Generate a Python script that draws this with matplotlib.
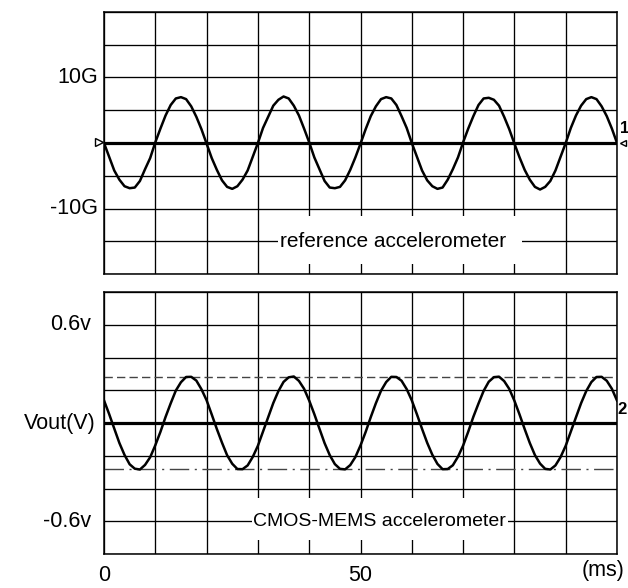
import numpy as np
import matplotlib
matplotlib.use("Agg")
import matplotlib.pyplot as plt
from matplotlib.patches import Rectangle

# time axis (ms), sampled every 1 ms
time_ms = list(range(0, 101))

# reference accelerometer trace (G)
ref_accel = [
    0.0, -2.1, -4.2, -5.6, -6.6, -6.9, -6.8, -5.8, -4.0, -2.3,
    0.1, 2.2, 4.2, 5.8, 6.8, 7.0, 6.7, 5.6, 4.0, 2.1,
    -0.1, -2.3, -4.1, -5.7, -6.7, -7.0, -6.6, -5.6, -4.2, -2.1,
    0.0, 2.3, 4.0, 5.7, 6.6, 7.1, 6.8, 5.7, 4.2, 2.2,
    0.1, -2.2, -4.0, -5.8, -6.8, -6.9, -6.7, -5.7, -4.1, -2.2,
    -0.1, 2.1, 4.1, 5.6, 6.7, 7.0, 6.8, 5.8, 4.1, 2.3,
    0.0, -2.1, -4.2, -5.7, -6.6, -7.0, -6.8, -5.6, -4.0, -2.2,
    0.1, 2.2, 4.1, 5.8, 6.8, 6.9, 6.6, 5.7, 4.0, 2.1,
    -0.1, -2.2, -4.1, -5.6, -6.7, -7.1, -6.7, -5.8, -4.2, -2.1,
    0.0, 2.3, 4.2, 5.7, 6.7, 7.0, 6.7, 5.6, 4.1, 2.2,
    0.0,
]

# CMOS-MEMS accelerometer output (V)
mems_vout = [
    0.138, 0.055, -0.034, -0.122, -0.195, -0.252, -0.279, -0.284, -0.256, -0.209,
    -0.136, -0.054, 0.037, 0.120, 0.198, 0.249, 0.281, 0.282, 0.259, 0.206,
    0.139, 0.052, -0.037, -0.120, -0.197, -0.249, -0.281, -0.282, -0.259, -0.207,
    -0.139, -0.052, 0.035, 0.122, 0.195, 0.251, 0.279, 0.284, 0.257, 0.209,
    0.137, 0.054, -0.035, -0.123, -0.196, -0.251, -0.280, -0.283, -0.257, -0.208,
    -0.137, -0.055, 0.036, 0.121, 0.197, 0.250, 0.282, 0.281, 0.258, 0.207,
    0.138, 0.053, -0.036, -0.121, -0.194, -0.250, -0.282, -0.281, -0.258, -0.206,
    -0.138, -0.053, 0.038, 0.119, 0.196, 0.252, 0.280, 0.283, 0.256, 0.208,
    0.136, 0.052, -0.037, -0.122, -0.196, -0.248, -0.280, -0.284, -0.259, -0.208,
    -0.139, -0.052, 0.035, 0.121, 0.195, 0.250, 0.281, 0.282, 0.258, 0.209,
    0.137,
]

# cursor levels on the lower trace (V)
vout_max = 0.28
vout_min = -0.28

top_labels = [(10, "10G"), (-10, "-10G")]
bot_labels = [(0.6, "0.6v"), (0.0, "Vout(V)"), (-0.6, "-0.6v")]
x_labels = [(0, "0"), (50, "50")]

plt.rcParams['font.family'] = ['Liberation Sans', 'DejaVu Sans']


def setup_grid(ax, ylim, ystep):
    ax.set_xlim(0, 100)
    ax.set_ylim(-ylim, ylim)
    ax.set_xticks(np.arange(0, 101, 10))
    ax.set_yticks(np.arange(-ylim, ylim + ystep / 2, ystep))
    ax.tick_params(length=0, labelleft=False, labelbottom=False)
    ax.set_axisbelow(True)
    ax.grid(True, color="black", linewidth=0.95)
    for s in ax.spines.values():
        s.set_linewidth(1.1)
    ax.axhline(0, color="black", linewidth=2.3, zorder=2)


def main():
    fig = plt.figure(figsize=(6.28, 5.88), dpi=100)
    ax1 = fig.add_axes([0.1656, 0.534, 0.8169, 0.4456])
    ax2 = fig.add_axes([0.1656, 0.0578, 0.8169, 0.4456])

    # upper panel: reference accelerometer
    setup_grid(ax1, 20, 5)
    ax1.plot(time_ms, ref_accel, color="black", linewidth=1.8, zorder=3)
    ax1.add_patch(Rectangle((34.0, -18.4), 47.5, 7.2, facecolor="white",
                            edgecolor="none", zorder=1))
    ax1.text(34.4, -15, "reference accelerometer", fontsize=15,
             ha="left", va="center", zorder=4)
    for y, lab in top_labels:
        ax1.text(-1.2, y, lab, fontsize=15.5, ha="right", va="center", clip_on=False)
    ax1.plot([-1.0], [0.2], marker=">", markersize=6, markerfacecolor="white",
             markeredgecolor="black", clip_on=False, zorder=5)
    ax1.plot([101.2], [0], marker="<", markersize=5, markerfacecolor="white",
             markeredgecolor="black", clip_on=False, zorder=5)
    ax1.text(100.5, 2.2, "1", fontsize=12, fontweight="bold", ha="left",
             va="center", clip_on=False)

    # lower panel: CMOS-MEMS accelerometer
    setup_grid(ax2, 0.8, 0.2)
    ax2.axhline(vout_max, color="#444444", linewidth=1.0, linestyle=(0, (6, 3)), zorder=2)
    ax2.axhline(vout_min, color="#444444", linewidth=1.0,
                linestyle=(0, (14, 4, 1.5, 4)), zorder=2)
    ax2.plot(time_ms, mems_vout, color="black", linewidth=1.8, zorder=3)
    ax2.add_patch(Rectangle((28.9, -0.716), 49.9, 0.256, facecolor="white",
                            edgecolor="none", zorder=1))
    ax2.text(29.1, -0.6, "CMOS-MEMS accelerometer", fontsize=14,
             ha="left", va="center", zorder=4)
    for y, lab in bot_labels:
        off = -1.6 if lab == "Vout(V)" else -2.6
        ax2.text(off, y, lab, fontsize=15.5, ha="right", va="center", clip_on=False)
    ax2.text(100.1, 0.083, "2", fontsize=12, fontweight="bold", ha="left",
             va="center", clip_on=False)

    for x, lab in x_labels:
        ax2.text(x, -0.93, lab, fontsize=15.5, ha="center", va="center", clip_on=False)
    ax2.text(101.5, -0.9, "(ms)", fontsize=15.5, ha="right", va="center", clip_on=False)

    fig.savefig("out.png", dpi=100)


if __name__ == "__main__":
    main()
